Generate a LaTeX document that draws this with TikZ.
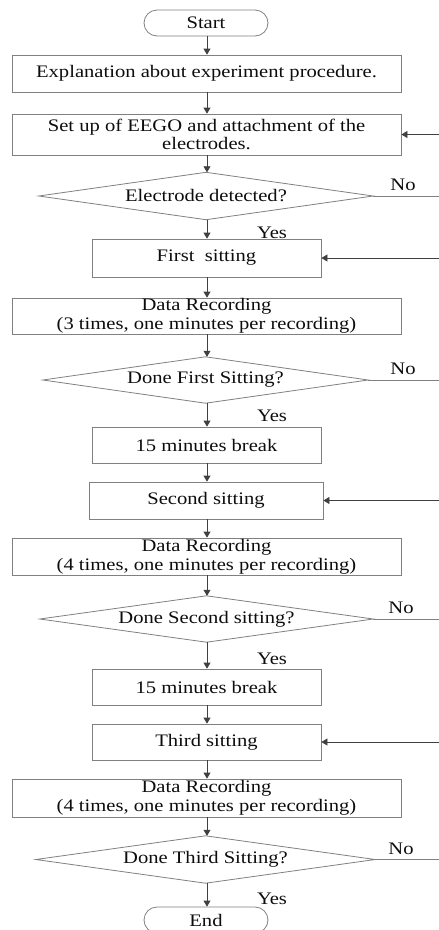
\documentclass[tikz,border=0pt]{standalone}
\usepackage{fontspec}
\setmainfont{Liberation Serif}[FakeStretch=1.17]
\usetikzlibrary{arrows.meta}
\begin{document}
\begin{tikzpicture}[x=1pt,y=-1pt,
  every node/.style={font=\fontsize{17.6}{18.6}\selectfont, text=black!95, inner sep=0pt, align=center},
  proc/.style={draw=black!50, line width=0.8pt, rectangle, minimum height=37pt},
  wide/.style={proc, minimum width=389pt},
  narrow/.style={proc, minimum width=229pt},
  term/.style={draw=black!50, line width=0.8pt, rectangle, rounded corners=13pt, minimum width=124pt, minimum height=26pt},
  decis/.style={rectangle, minimum height=47pt},
  dline/.style={draw=black!50, line width=0.8pt},
  conn/.style={draw=black!75, line width=0.8pt, -{Triangle[width=7pt,length=6pt]}},
  noline/.style={draw=black!50, line width=0.8pt},
  lab/.style={font=\fontsize{17.6}{18.6}\selectfont}
]
\useasboundingbox (0,0) rectangle (439,930);
\coordinate (axis) at (207,0);

\node[term] (start) at (206,23) {Start};
\node[wide] (b1) at (206.5,73.5) {Explanation about experiment procedure.};
\node[wide, minimum height=41pt] (b2) at (206.5,134.5) {Set up of EEGO and attachment of the\\electrodes.};
\node[decis, minimum width=334pt] (d1) at (206,196) {Electrode detected?};
\node[narrow, minimum height=38pt] (s1) at (206.5,258) {First\ \ sitting};
\node[wide, minimum height=36pt] (r1) at (206.5,316) {Data Recording\\(3 times, one minutes per recording)};
\node[decis, minimum width=325pt, minimum height=46pt] (d2) at (205.5,380) {Done First Sitting?};
\node[narrow, minimum height=36pt] (k1) at (206.5,445) {15 minutes break};
\node[proc, minimum width=234pt] (s2) at (206,500.5) {Second sitting};
\node[wide] (r2) at (206.5,556.5) {Data Recording\\(4 times, one minutes per recording)};
\node[decis, minimum width=333pt, minimum height=46pt] (d3) at (206.5,619) {Done Second sitting?};
\node[narrow, minimum height=36pt] (k2) at (206.5,687) {15 minutes break};
\node[narrow, minimum height=36pt] (s3) at (206.5,742) {Third sitting};
\node[wide, minimum height=38pt] (r3) at (206.5,798) {Data Recording\\(4 times, one minutes per recording)};
\node[decis, minimum width=339pt] (d4) at (205.5,859.5) {Done Third Sitting?};
\node[term] (end) at (206,920) {End};

\foreach \d in {d1,d2,d3,d4}
  \draw[dline] (\d.west) -- (\d.north) -- (\d.east) -- (\d.south) -- cycle;

% main flow
\draw[conn] (start.south -| axis) -- (b1.north -| axis);
\draw[conn] (b1.south -| axis) -- (b2.north -| axis);
\draw[conn] (b2.south -| axis) -- (d1.north -| axis);
\draw[conn] (d1.south -| axis) -- (s1.north -| axis);
\draw[conn] (s1.south -| axis) -- (r1.north -| axis);
\draw[conn] (r1.south -| axis) -- (d2.north -| axis);
\draw[conn] (d2.south -| axis) -- (k1.north -| axis);
\draw[conn] (k1.south -| axis) -- (s2.north -| axis);
\draw[conn] (s2.south -| axis) -- (r2.north -| axis);
\draw[conn] (r2.south -| axis) -- (d3.north -| axis);
\draw[conn] (d3.south -| axis) -- (k2.north -| axis);
\draw[conn] (k2.south -| axis) -- (s3.north -| axis);
\draw[conn] (s3.south -| axis) -- (r3.north -| axis);
\draw[conn] (r3.south -| axis) -- (d4.north -| axis);
\draw[conn] (d4.south -| axis) -- (end.north -| axis);

% Yes labels
\node[lab] (y1) at (272,233) {Yes};
\node[lab] (y2) at (272,416) {Yes};
\node[lab] (y3) at (272,659) {Yes};
\node[lab] (y4) at (272,899) {Yes};

% No branches (cut at the right edge)
\coordinate (o1) at (439,196);
\coordinate (o2) at (439,380);
\coordinate (o3) at (439,619);
\coordinate (o4) at (439,859.5);
\draw[noline] (d1.east) -- (o1);
\draw[noline] (d2.east) -- (o2);
\draw[noline] (d3.east) -- (o3);
\draw[noline] (d4.east) -- (o4);
\node[lab] (n1) at (403,185) {No};
\node[lab] (n2) at (403,368.5) {No};
\node[lab] (n3) at (401,607.5) {No};
\node[lab] (n4) at (401,848.5) {No};

% return arrows entering from the right edge
\coordinate (i1) at (439,134.5);
\coordinate (i2) at (439,258);
\coordinate (i3) at (439,500.5);
\coordinate (i4) at (439,742);
\draw[conn] (i1) -- (b2.east);
\draw[conn] (i2) -- (s1.east);
\draw[conn] (i3) -- (s2.east);
\draw[conn] (i4) -- (s3.east);
\end{tikzpicture}
\end{document}
